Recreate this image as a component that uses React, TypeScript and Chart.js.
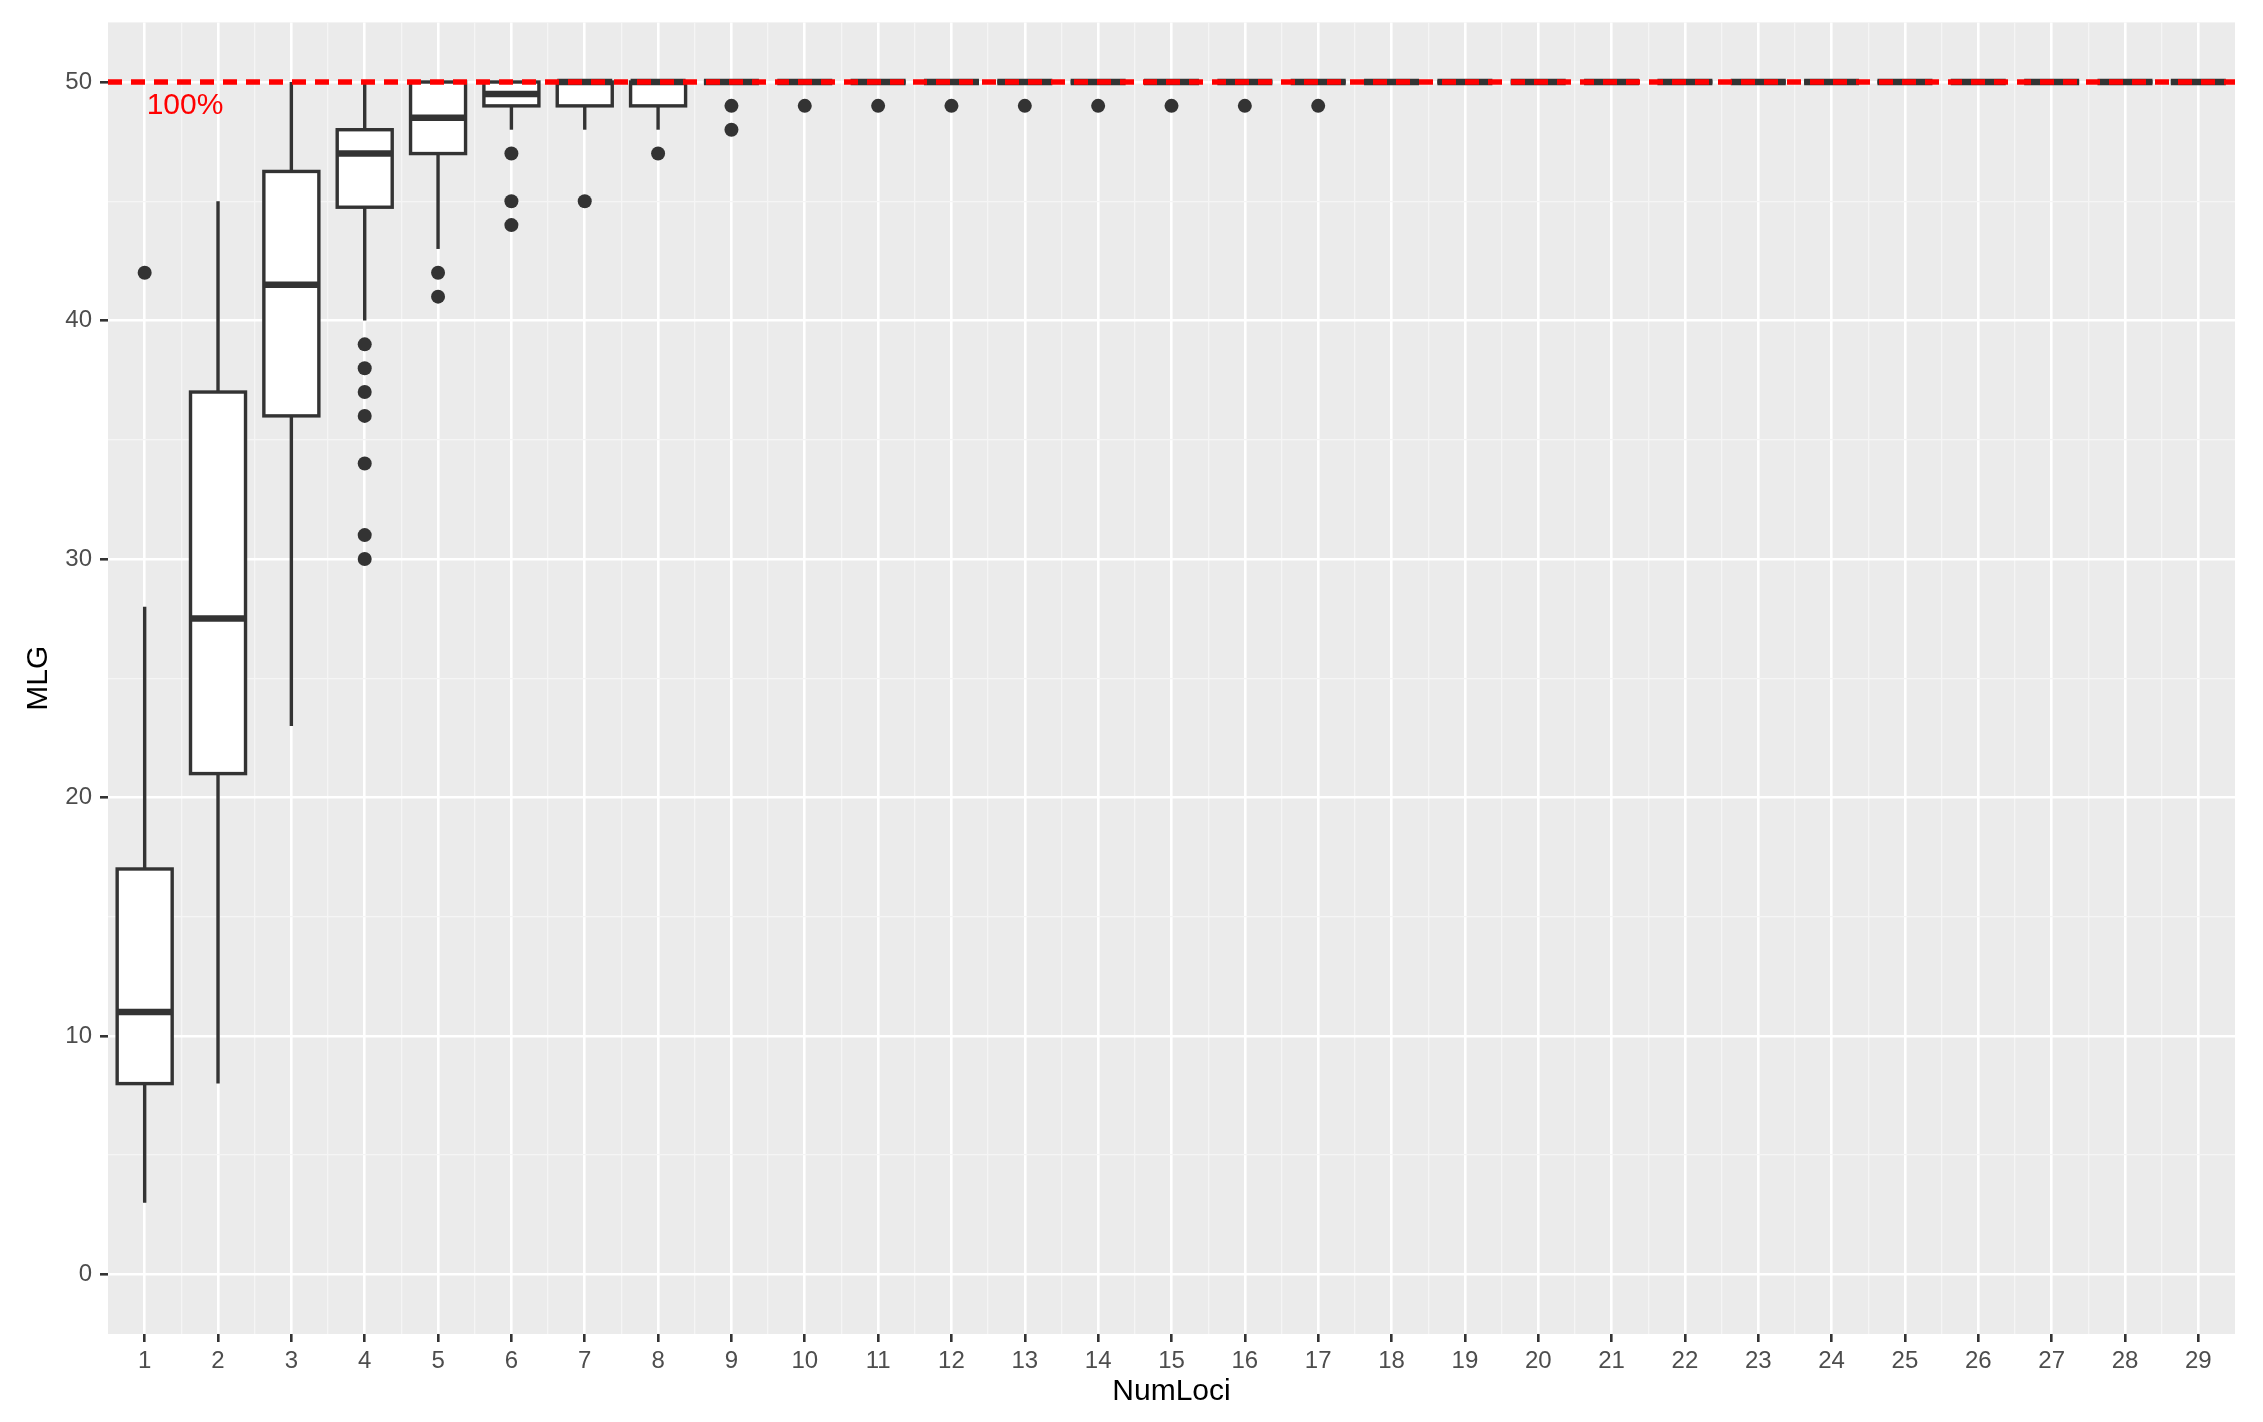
import React, { useEffect, useRef } from "react";
import { Chart, registerables } from "chart.js";

Chart.register(...registerables);

// ---- Data ----
const numLoci = [1, 2, 3, 4, 5, 6, 7, 8, 9, 10, 11, 12, 13, 14, 15, 16, 17, 18, 19, 20, 21, 22, 23, 24, 25, 26, 27, 28, 29];
const lowerWhisker = [3, 8, 23, 40, 43, 48, 48, 48, 50, 50, 50, 50, 50, 50, 50, 50, 50, 50, 50, 50, 50, 50, 50, 50, 50, 50, 50, 50, 50];
const q1 = [8, 21, 36, 44.75, 47, 49, 49, 49, 50, 50, 50, 50, 50, 50, 50, 50, 50, 50, 50, 50, 50, 50, 50, 50, 50, 50, 50, 50, 50];
const median = [11, 27.5, 41.5, 47, 48.5, 49.5, 50, 50, 50, 50, 50, 50, 50, 50, 50, 50, 50, 50, 50, 50, 50, 50, 50, 50, 50, 50, 50, 50, 50];
const q3 = [17, 37, 46.25, 48, 50, 50, 50, 50, 50, 50, 50, 50, 50, 50, 50, 50, 50, 50, 50, 50, 50, 50, 50, 50, 50, 50, 50, 50, 50];
const upperWhisker = [28, 45, 50, 50, 50, 50, 50, 50, 50, 50, 50, 50, 50, 50, 50, 50, 50, 50, 50, 50, 50, 50, 50, 50, 50, 50, 50, 50, 50];

const outlierLoci = [1, 4, 4, 4, 4, 4, 4, 4, 5, 5, 6, 6, 6, 7, 8, 9, 9, 10, 11, 12, 13, 14, 15, 16, 17];
const outlierMLG = [42, 39, 38, 37, 36, 34, 31, 30, 42, 41, 47, 45, 44, 45, 47, 49, 48, 49, 49, 49, 49, 49, 49, 49, 49];

const yTicks = [0, 10, 20, 30, 40, 50];
const yMinorTicks = [5, 15, 25, 35, 45];

const refValue = 50;
const refLabel = "100%";
const refLabelX = 1.55;
const refLabelY = 49;

const BOX_WIDTH = 0.75;
const FONT = "'Liberation Sans', Arial, sans-serif";

const panelPlugin = {
  id: "panelBg",
  beforeDraw(chart: any) {
    const { ctx, chartArea } = chart;
    ctx.save();
    ctx.fillStyle = "#EBEBEB";
    ctx.fillRect(chartArea.left, chartArea.top, chartArea.right - chartArea.left, chartArea.bottom - chartArea.top);
    ctx.restore();
  },
};

const boxPlugin = {
  id: "boxes",
  beforeDatasetsDraw(chart: any) {
    const { ctx } = chart;
    const xs = chart.scales.x;
    const ys = chart.scales.y;
    const half = (xs.getPixelForValue(1 + BOX_WIDTH / 2) - xs.getPixelForValue(1));
    ctx.save();
    ctx.strokeStyle = "#333333";
    ctx.lineCap = "butt";
    for (let i = 0; i < numLoci.length; i++) {
      const cx = xs.getPixelForValue(numLoci[i]);
      const yLo = ys.getPixelForValue(lowerWhisker[i]);
      const yQ1 = ys.getPixelForValue(q1[i]);
      const yMed = ys.getPixelForValue(median[i]);
      const yQ3 = ys.getPixelForValue(q3[i]);
      const yHi = ys.getPixelForValue(upperWhisker[i]);
      // whiskers
      ctx.lineWidth = 3.4;
      ctx.beginPath();
      if (yHi < yQ3) {
        ctx.moveTo(cx, yHi);
        ctx.lineTo(cx, yQ3);
      }
      if (yLo > yQ1) {
        ctx.moveTo(cx, yQ1);
        ctx.lineTo(cx, yLo);
      }
      ctx.stroke();
      // box
      ctx.fillStyle = "#FFFFFF";
      ctx.fillRect(cx - half, yQ3, 2 * half, yQ1 - yQ3);
      ctx.lineWidth = 3.4;
      ctx.strokeRect(cx - half, yQ3, 2 * half, yQ1 - yQ3);
      // median
      ctx.lineWidth = 6.5;
      ctx.beginPath();
      ctx.moveTo(cx - half, yMed);
      ctx.lineTo(cx + half, yMed);
      ctx.stroke();
    }
    ctx.restore();
  },
  afterDatasetsDraw(chart: any) {
    const { ctx, chartArea } = chart;
    const xs = chart.scales.x;
    const ys = chart.scales.y;
    const yRef = ys.getPixelForValue(refValue);
    ctx.save();
    ctx.strokeStyle = "#FF0000";
    ctx.lineWidth = 5.5;
    ctx.setLineDash([14, 9]);
    ctx.beginPath();
    ctx.moveTo(chartArea.left, yRef);
    ctx.lineTo(chartArea.right, yRef);
    ctx.stroke();
    ctx.setLineDash([]);
    ctx.fillStyle = "#FF0000";
    ctx.font = `30px ${FONT}`;
    ctx.textAlign = "center";
    ctx.textBaseline = "middle";
    ctx.fillText(refLabel, xs.getPixelForValue(refLabelX), ys.getPixelForValue(refLabelY));
    ctx.restore();
  },
};

export default function App() {
  const canvasRef = useRef<HTMLCanvasElement | null>(null);

  useEffect(() => {
    document.body.style.margin = "0";
    const canvas = canvasRef.current;
    if (!canvas) return;
    const xMinorTicks: number[] = [];
    for (let i = 0; i < numLoci.length - 1; i++) xMinorTicks.push((numLoci[i] + numLoci[i + 1]) / 2);

    const chart = new Chart(canvas, {
      type: "scatter",
      data: {
        datasets: [
          {
            label: "outliers",
            data: outlierLoci.map((x, i) => ({ x, y: outlierMLG[i] })),
            backgroundColor: "#333333",
            borderWidth: 0,
            pointRadius: 7,
            pointHoverRadius: 7,
            xAxisID: "x",
            yAxisID: "y",
          },
        ],
      },
      options: {
        responsive: false,
        animation: false,
        events: [],
        layout: { padding: { top: 21, right: 28, left: 0, bottom: 0 } },
        plugins: {
          legend: { display: false },
          tooltip: { enabled: false },
          title: { display: false },
        },
        scales: {
          x: {
            type: "linear",
            position: "bottom",
            min: 0.5,
            max: 29.5,
            afterBuildTicks: (scale: any) => {
              scale.ticks = numLoci.map((v) => ({ value: v }));
            },
            afterFit: (scale: any) => {
              scale.height = 88;
            },
            ticks: {
              autoSkip: false,
              maxRotation: 0,
              minRotation: 0,
              padding: 5,
              color: "#4D4D4D",
              font: { family: FONT, size: 24 },
              callback: (v: any) => String(v),
            },
            grid: {
              color: "#FFFFFF",
              lineWidth: 2.6,
              tickColor: "#333333",
              tickWidth: 2.6,
              tickLength: 8,
              drawTicks: true,
            },
            border: { display: false },
            title: {
              display: true,
              text: "NumLoci",
              color: "#000000",
              font: { family: FONT, size: 30, lineHeight: 1 },
              padding: { top: 0, bottom: 15 },
            },
          },
          xMinor: {
            type: "linear",
            position: "bottom",
            min: 0.5,
            max: 29.5,
            afterBuildTicks: (scale: any) => {
              scale.ticks = xMinorTicks.map((v) => ({ value: v }));
            },
            afterFit: (scale: any) => {
              scale.height = 0;
            },
            ticks: { display: false },
            grid: { color: "#F5F5F5", lineWidth: 1.3, drawTicks: false },
            border: { display: false },
          },
          y: {
            type: "linear",
            position: "left",
            min: -2.5,
            max: 52.5,
            afterBuildTicks: (scale: any) => {
              scale.ticks = yTicks.map((v) => ({ value: v }));
            },
            afterFit: (scale: any) => {
              scale.width = 108;
            },
            ticks: {
              padding: 8,
              color: "#4D4D4D",
              font: { family: FONT, size: 24 },
              callback: (v: any) => String(v),
            },
            grid: {
              color: "#FFFFFF",
              lineWidth: 2.6,
              tickColor: "#333333",
              tickWidth: 2.6,
              tickLength: 8,
              drawTicks: true,
            },
            border: { display: false },
            title: {
              display: true,
              text: "MLG",
              color: "#000000",
              font: { family: FONT, size: 30, lineHeight: 1 },
              padding: { top: 24, bottom: 0 },
            },
          },
          yMinor: {
            type: "linear",
            position: "left",
            min: -2.5,
            max: 52.5,
            afterBuildTicks: (scale: any) => {
              scale.ticks = yMinorTicks.map((v) => ({ value: v }));
            },
            afterFit: (scale: any) => {
              scale.width = 0;
            },
            ticks: { display: false },
            grid: { color: "#F5F5F5", lineWidth: 1.3, drawTicks: false },
            border: { display: false },
          },
        },
      },
      plugins: [panelPlugin, boxPlugin],
    } as any);

    return () => {
      chart.destroy();
    };
  }, []);

  return (
    <div style={{ width: 2263, height: 1422, background: "#FFFFFF" }}>
      <canvas ref={canvasRef} width={2263} height={1422} style={{ display: "block" }} />
    </div>
  );
}
